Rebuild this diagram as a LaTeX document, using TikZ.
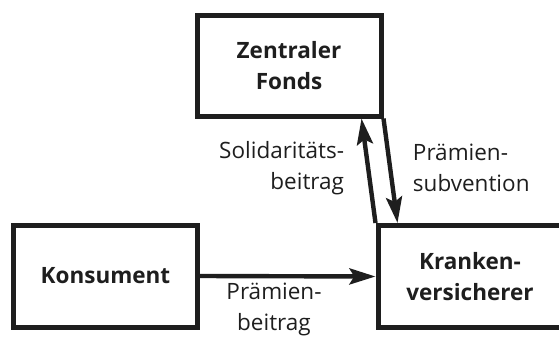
\documentclass[tikz,border=0pt]{standalone}
\usepackage{fontspec}
\setmainfont{Open Sans}
\usetikzlibrary{arrows.meta}
\definecolor{ink}{HTML}{1E1E1E}
\begin{document}
\begin{tikzpicture}[x=0.25mm, y=-0.25mm, every node/.style={font=\fontsize{16}{22}\selectfont, text=ink},
    box/.style={draw=ink, line width=1.25mm, minimum width=46mm, minimum height=25.5mm, align=center, font=\fontsize{16}{22}\selectfont\bfseries},
    flow/.style={draw=ink, line width=1.1mm, -{Stealth[length=6.5mm, width=4mm, inset=1.2mm]}}]
          \useasboundingbox (0,0) rectangle (559,338);
          \node [box, minimum height=25mm] (zf) at (289,66) {Zentraler\\Fonds};
          \node [box] (ks) at (105.5,276) {Konsument};
          \node [box] (kv) at (470,276.5) {Kranken-\\versicherer};
          % labels of the flows
          \node [align=right, anchor=east] (sb) at (349,168) {Solidaritäts-\\beitrag};
          \node [align=left, anchor=west] (ps) at (408,168) {Prämien-\\subvention};
          \node [align=center] (pb) at (274,309) {Prämien-\\beitrag};
          \draw [flow] (ks.east) -- (kv.west);
          \draw [flow] (kv.north west) -- ([xshift=-5.5mm]zf.south east);
          \draw [flow] (zf.south east) -- ([xshift=5.5mm]kv.north west);
        \end{tikzpicture}
\end{document}
